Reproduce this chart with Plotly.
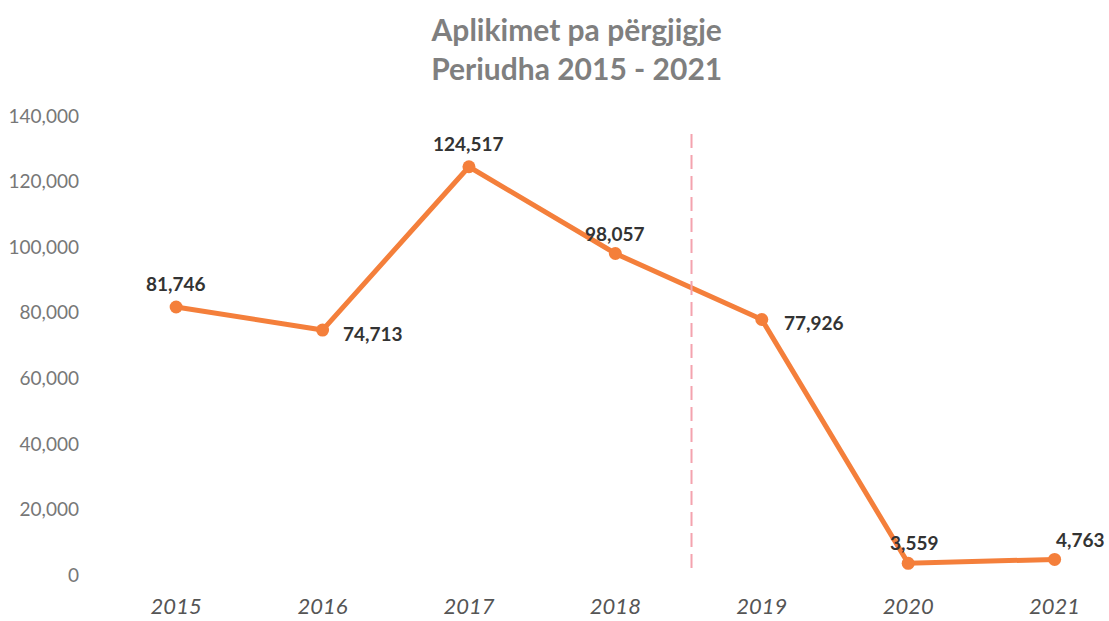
import plotly.graph_objects as go

years = [2015, 2016, 2017, 2018, 2019, 2020, 2021]
values = [81746, 74713, 124517, 98057, 77926, 3559, 4763]
labels = ["81,746", "74,713", "124,517", "98,057", "77,926", "3,559", "4,763"]
y_ticks = [0, 20000, 40000, 60000, 80000, 100000, 120000, 140000]
y_ticktext = ["0", "20,000", "40,000", "60,000", "80,000", "100,000", "120,000", "140,000"]
title_text = "Aplikimet pa përgjigje<br>Periudha 2015 - 2021"

orange = "#F47F3B"
# label offsets (style only): xanchor, xshift, yshift
label_style = [
    ("center", 0, 23),
    ("left", 18, -3),
    ("center", 0, 23),
    ("center", 0, 20),
    ("left", 20, -3),
    ("center", 6, 21),
    ("center", 26, 20),
]

fig = go.Figure()
fig.add_trace(go.Scatter(
    x=years, y=values, mode="lines+markers",
    line=dict(color=orange, width=5),
    marker=dict(color=orange, size=13),
    hoverinfo="skip", showlegend=False, cliponaxis=False,
))

for yr, v, lab, (xa, xs, ys) in zip(years, values, labels, label_style):
    fig.add_annotation(x=yr, y=v, text=lab, showarrow=False,
                       xanchor=xa, yanchor="middle", xshift=xs, yshift=ys,
                       font=dict(family="Lato", size=19, color="#333333", weight="bold"))

fig.add_shape(type="line", x0=2018.52, x1=2018.52, y0=2100, y1=136300,
              xref="x", yref="y",
              line=dict(color="#F4A3AE", width=2, dash="14px,7px"))

fig.update_layout(
    width=1109, height=621,
    paper_bgcolor="white", plot_bgcolor="white",
    margin=dict(l=100, r=9, t=105, b=43),
    title=dict(text=title_text, x=0.52, xanchor="center", y=0.934, yanchor="top",
               font=dict(family="Lato", size=30, color="#7F7F7F", weight="bold")),
    font=dict(family="Lato"),
)
fig.update_xaxes(
    range=[2014.48, 2021.31], tickmode="array", tickvals=years,
    ticktext=[str(y) for y in years], showgrid=False, zeroline=False,
    showline=False, ticks="", automargin=False, ticklabelstandoff=13,
    tickfont=dict(family="Lato", size=22, color="#555555", style="italic"),
)
fig.update_yaxes(
    range=[-915, 143355], tickmode="array", tickvals=y_ticks, ticktext=y_ticktext,
    showgrid=False, zeroline=False, showline=False, ticks="", automargin=False,
    tickfont=dict(family="Lato", size=19, color="#777777"),
    ticklabelstandoff=20,
)

fig.write_html("out.html", config={"displayModeBar": False},
               post_script="document.body.style.margin='0';document.body.style.overflow='hidden';")
